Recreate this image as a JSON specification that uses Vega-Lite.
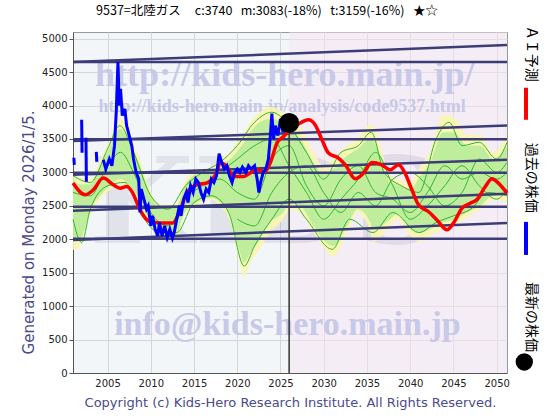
{
  "$schema": "https://vega.github.io/schema/vega-lite/v6.json",
  "width": 434,
  "height": 341,
  "autosize": "none",
  "padding": {"left": 73, "top": 32, "right": 53, "bottom": 47},
  "background": "white",
  "view": {"fill": "#f3f6f8", "stroke": "#999999", "strokeWidth": 1},
  "title": {
    "text": "9537=北陸ガス\u00a0\u00a0\u00a0\u00a0 c:3740\u00a0\u00a0 m:3083(-18%)\u00a0\u00a0 t:3159(-16%)\u00a0\u00a0 ★☆",
    "font": "Noto Sans CJK JP",
    "fontSize": 12.5,
    "fontWeight": "normal",
    "color": "#000000",
    "anchor": "middle",
    "dx": -23,
    "offset": 8
  },
  "encoding": {
    "x": {
      "field": "year", "type": "quantitative",
      "scale": {"domain": [2001, 2051.2], "nice": false, "zero": false},
      "axis": {
        "title": "Copyright (c) Kids-Hero Research Institute. All Rights Reserved.",
        "titleFont": "DejaVu Sans", "titleFontSize": 13, "titleFontWeight": "normal", "titleColor": "#4a4a8c", "titlePadding": 8,
        "values": [2005, 2010, 2015, 2020, 2025, 2030, 2035, 2040, 2045, 2050],
        "format": "d", "labelFont": "DejaVu Sans", "labelFontSize": 10, "labelColor": "#222222",
        "ticks": false, "labelPadding": 5, "domainColor": "#555555",
        "grid": true, "gridColor": "#d6d6d6", "gridWidth": 1
      }
    },
    "y": {
      "field": "v", "type": "quantitative",
      "scale": {"domain": [0, 5100], "nice": false, "zero": true},
      "axis": {
        "title": "Generated on Monday 2026/1/5.",
        "titleFont": "DejaVu Sans", "titleFontSize": 15, "titleFontWeight": "normal", "titleColor": "#4a4a8c", "titlePadding": 5,
        "titleY": 200,
        "values": [0, 500, 1000, 1500, 2000, 2500, 3000, 3500, 4000, 4500, 5000],
        "labelFont": "DejaVu Sans", "labelFontSize": 10, "labelColor": "#222222", "format": "d",
        "ticks": true, "tickSize": 4, "tickColor": "#555555", "labelPadding": 2, "domainColor": "#555555",
        "grid": true, "gridColor": "#d6d6d6", "gridWidth": 1
      }
    }
  },
  "layer": [
    {
      "data": {"values": [{"year": 2026, "year2": 2051.2, "v": 0, "v2": 5100}]},
      "mark": {"type": "rect", "fill": "#f6e4f2", "opacity": 0.5},
      "encoding": {"x2": {"field": "year2"}, "y2": {"field": "v2"}}
    },
    {
      "data": {"values": [{"year": 2023.2, "v": 2480, "t": "KIDS"}]},
      "mark": {"type": "text", "font": "DejaVu Serif", "fontWeight": "bold", "fontSize": 120, "fill": "#8f8fb0", "opacity": 0.18, "align": "center", "baseline": "middle"},
      "encoding": {"text": {"field": "t"}}
    },
    {
      "data": {"values": [
        {"year": 2025.5, "v": 4461, "t": "http://kids-hero.main.jp/"}
      ]},
      "mark": {"type": "text", "font": "Liberation Serif", "fontWeight": "bold", "fontSize": 36, "fill": "#c8c8e8", "align": "center", "baseline": "middle"},
      "encoding": {"text": {"field": "t"}}
    },
    {
      "data": {"values": [
        {"year": 2025.2, "v": 3982, "t": "http://kids-hero.main.jp/analysis/code9537.html"}
      ]},
      "mark": {"type": "text", "font": "Liberation Serif", "fontWeight": "bold", "fontSize": 18, "fill": "#c8c8e8", "align": "center", "baseline": "middle"},
      "encoding": {"text": {"field": "t"}}
    },
    {
      "data": {"values": [
        {"year": 2025.8, "v": 719, "t": "info@kids-hero.main.jp"}
      ]},
      "mark": {"type": "text", "font": "Liberation Serif", "fontWeight": "bold", "fontSize": 34, "fill": "#c8c8e8", "align": "center", "baseline": "middle"},
      "encoding": {"text": {"field": "t"}}
    },
    {
      "data": {"name": "env"},
      "mark": {"type": "area", "color": "#faf5ae", "opacity": 0.9, "interpolate": "monotone"},
      "encoding": {"y2": {"field": "v2"}}
    },
    {
      "data": {"name": "genv"},
      "mark": {"type": "area", "color": "#b4ec98", "opacity": 0.85, "interpolate": "monotone"},
      "encoding": {"y2": {"field": "v2"}}
    },
    {
      "data": {"name": "glines"},
      "mark": {"type": "line", "color": "#2fb52f", "strokeWidth": 1, "interpolate": "monotone"},
      "encoding": {"detail": {"field": "id"}}
    },
    {
      "data": {"name": "navy"},
      "mark": {"type": "line", "color": "#3c3c78", "strokeWidth": 2.5},
      "encoding": {"detail": {"field": "id"}}
    },
    {
      "data": {"values": [{"year": 2026, "v": 0, "v2": 3740}]},
      "mark": {"type": "rule", "color": "#333333", "strokeWidth": 1.5},
      "encoding": {"y2": {"field": "v2"}}
    },
    {
      "data": {"name": "red"},
      "mark": {"type": "line", "color": "#ff0000", "strokeWidth": 3.5, "interpolate": "monotone"},
      "encoding": {}
    },
    {
      "data": {"name": "blue"},
      "mark": {"type": "line", "color": "#0000ff", "strokeWidth": 3},
      "encoding": {"detail": {"field": "seg"}}
    },
    {
      "data": {"values": [{"year": 2026, "v": 3740}]},
      "mark": {"type": "point", "filled": true, "color": "#000000", "size": 400, "opacity": 1},
      "encoding": {}
    },
    {
      "data": {"values": [
        {"year": 2054.0, "v": 4775, "t": "ＡＩ予測"},
        {"year": 2054.0, "v": 2919, "t": "過去の株価"},
        {"year": 2054.0, "v": 838, "t": "最新の株価"}
      ]},
      "mark": {"type": "text", "font": "Noto Sans CJK JP", "fontSize": 14, "angle": 90, "align": "center", "baseline": "middle", "fill": "#000000"},
      "encoding": {"text": {"field": "t"}}
    },
    {
      "data": {"values": [{"year": 2053.4, "v": 4266, "v2": 3787}]},
      "mark": {"type": "rule", "color": "#ff0000", "strokeWidth": 4},
      "encoding": {"y2": {"field": "v2"}}
    },
    {
      "data": {"values": [{"year": 2053.4, "v": 2260, "v2": 1766}]},
      "mark": {"type": "rule", "color": "#0000ff", "strokeWidth": 4},
      "encoding": {"y2": {"field": "v2"}}
    },
    {
      "data": {"values": [{"year": 2053.2, "v": 165}]},
      "mark": {"type": "point", "filled": true, "color": "#000000", "size": 300, "opacity": 1},
      "encoding": {}
    }
  ],
  "datasets": {
    "env": [
      {"year": 2001.0, "v": 3009, "v2": 1841}, {"year": 2001.8, "v": 2919, "v2": 1886}, {"year": 2003.0, "v": 2889, "v2": 2365},
      {"year": 2004.1, "v": 3189, "v2": 2590}, {"year": 2005.3, "v": 3488, "v2": 2740}, {"year": 2006.4, "v": 3817, "v2": 2814},
      {"year": 2007.6, "v": 3563, "v2": 2740}, {"year": 2008.75, "v": 3189, "v2": 2515}, {"year": 2009.9, "v": 2740, "v2": 2216},
      {"year": 2011.1, "v": 2515, "v2": 2021}, {"year": 2012.8, "v": 2515, "v2": 1991}, {"year": 2014.0, "v": 2889, "v2": 2365},
      {"year": 2015.5, "v": 3039, "v2": 2515}, {"year": 2017.0, "v": 3069, "v2": 2590}, {"year": 2018.0, "v": 3200, "v2": 2500},
      {"year": 2019.2, "v": 3300, "v2": 2250}, {"year": 2020.2, "v": 3500, "v2": 1700}, {"year": 2020.8, "v": 3600, "v2": 1440},
      {"year": 2021.5, "v": 3750, "v2": 1650}, {"year": 2022.6, "v": 3900, "v2": 1850}, {"year": 2023.8, "v": 3980, "v2": 2100},
      {"year": 2025.3, "v": 3900, "v2": 2300}, {"year": 2026.1, "v": 3800, "v2": 2450}, {"year": 2027.3, "v": 3700, "v2": 2400},
      {"year": 2028.8, "v": 3300, "v2": 2100}, {"year": 2029.9, "v": 3100, "v2": 1900}, {"year": 2031.1, "v": 3200, "v2": 1740},
      {"year": 2032.7, "v": 3400, "v2": 2100}, {"year": 2033.9, "v": 3500, "v2": 2400}, {"year": 2035.4, "v": 3720, "v2": 2100},
      {"year": 2035.7, "v": 3700, "v2": 1960}, {"year": 2037.7, "v": 2950, "v2": 2200}, {"year": 2038.5, "v": 2900, "v2": 2300},
      {"year": 2040.0, "v": 2850, "v2": 2050}, {"year": 2041.2, "v": 3100, "v2": 1960}, {"year": 2042.3, "v": 3300, "v2": 2050},
      {"year": 2043.8, "v": 3860, "v2": 2150}, {"year": 2045.0, "v": 3830, "v2": 2200}, {"year": 2046.6, "v": 3560, "v2": 2330},
      {"year": 2048.1, "v": 3560, "v2": 2450}, {"year": 2049.6, "v": 3300, "v2": 2590}, {"year": 2051.2, "v": 3560, "v2": 2560}
    ],
    "genv": [
      {"year": 2001.0, "v": 2900, "v2": 2000}, {"year": 2001.8, "v": 2820, "v2": 2000}, {"year": 2003.0, "v": 2820, "v2": 2450},
      {"year": 2004.1, "v": 3100, "v2": 2650}, {"year": 2005.3, "v": 3380, "v2": 2800}, {"year": 2006.4, "v": 3650, "v2": 2900},
      {"year": 2007.6, "v": 3450, "v2": 2800}, {"year": 2008.75, "v": 3100, "v2": 2580}, {"year": 2009.9, "v": 2680, "v2": 2280},
      {"year": 2011.1, "v": 2460, "v2": 2080}, {"year": 2012.8, "v": 2460, "v2": 2060}, {"year": 2014.0, "v": 2820, "v2": 2420},
      {"year": 2015.5, "v": 2980, "v2": 2560}, {"year": 2017.0, "v": 3000, "v2": 2620}, {"year": 2018.0, "v": 3120, "v2": 2560},
      {"year": 2019.2, "v": 3200, "v2": 2350}, {"year": 2020.2, "v": 3350, "v2": 1850}, {"year": 2020.8, "v": 3450, "v2": 1650},
      {"year": 2021.5, "v": 3600, "v2": 1800}, {"year": 2022.6, "v": 3750, "v2": 2000}, {"year": 2023.8, "v": 3800, "v2": 2250},
      {"year": 2025.3, "v": 3750, "v2": 2400}, {"year": 2026.1, "v": 3650, "v2": 2550}, {"year": 2027.3, "v": 3500, "v2": 2500},
      {"year": 2028.8, "v": 3150, "v2": 2200}, {"year": 2029.9, "v": 2980, "v2": 2000}, {"year": 2031.1, "v": 3050, "v2": 1900},
      {"year": 2032.7, "v": 3250, "v2": 2200}, {"year": 2033.9, "v": 3350, "v2": 2450}, {"year": 2035.4, "v": 3500, "v2": 2250},
      {"year": 2035.7, "v": 3480, "v2": 2150}, {"year": 2037.7, "v": 2850, "v2": 2300}, {"year": 2038.5, "v": 2820, "v2": 2380},
      {"year": 2040.0, "v": 2750, "v2": 2150}, {"year": 2041.2, "v": 2950, "v2": 2100}, {"year": 2042.3, "v": 3150, "v2": 2150},
      {"year": 2043.8, "v": 3600, "v2": 2250}, {"year": 2045.0, "v": 3600, "v2": 2300}, {"year": 2046.6, "v": 3400, "v2": 2400},
      {"year": 2048.1, "v": 3400, "v2": 2500}, {"year": 2049.6, "v": 3200, "v2": 2650}, {"year": 2051.2, "v": 3400, "v2": 2650}
    ],
    "glines": [
      {"id": 1, "year": 2001, "v": 2950}, {"id": 1, "year": 2003, "v": 2850}, {"id": 1, "year": 2005, "v": 3350}, {"id": 1, "year": 2006.4, "v": 3700},
      {"id": 1, "year": 2008, "v": 3300}, {"id": 1, "year": 2010, "v": 2650}, {"id": 1, "year": 2012, "v": 2450}, {"id": 1, "year": 2014, "v": 2800},
      {"id": 1, "year": 2016, "v": 3000}, {"id": 1, "year": 2018, "v": 3150}, {"id": 1, "year": 2020, "v": 3400}, {"id": 1, "year": 2022, "v": 3750},
      {"id": 1, "year": 2024, "v": 3900}, {"id": 1, "year": 2026, "v": 3700}, {"id": 1, "year": 2028, "v": 3300}, {"id": 1, "year": 2030, "v": 2900},
      {"id": 1, "year": 2032, "v": 3300}, {"id": 1, "year": 2034, "v": 3400}, {"id": 1, "year": 2035.5, "v": 3600}, {"id": 1, "year": 2037, "v": 3000},
      {"id": 1, "year": 2039, "v": 2800}, {"id": 1, "year": 2041, "v": 2700}, {"id": 1, "year": 2043, "v": 3500}, {"id": 1, "year": 2044.5, "v": 3750},
      {"id": 1, "year": 2046, "v": 3400}, {"id": 1, "year": 2048, "v": 3450}, {"id": 1, "year": 2050, "v": 3200}, {"id": 1, "year": 2051.2, "v": 3450},
      {"id": 2, "year": 2001, "v": 2300}, {"id": 2, "year": 2002, "v": 1950}, {"id": 2, "year": 2003, "v": 2450}, {"id": 2, "year": 2005, "v": 2800},
      {"id": 2, "year": 2007, "v": 2850}, {"id": 2, "year": 2009, "v": 2350}, {"id": 2, "year": 2011, "v": 2100}, {"id": 2, "year": 2013, "v": 2100},
      {"id": 2, "year": 2015, "v": 2550}, {"id": 2, "year": 2017, "v": 2650}, {"id": 2, "year": 2019, "v": 2400}, {"id": 2, "year": 2020.8, "v": 1600},
      {"id": 2, "year": 2022, "v": 1900}, {"id": 2, "year": 2024, "v": 2300}, {"id": 2, "year": 2026, "v": 2600}, {"id": 2, "year": 2028, "v": 2300},
      {"id": 2, "year": 2031, "v": 1850}, {"id": 2, "year": 2033, "v": 2300}, {"id": 2, "year": 2035.7, "v": 2100}, {"id": 2, "year": 2038, "v": 2400},
      {"id": 2, "year": 2041, "v": 2100}, {"id": 2, "year": 2043, "v": 2250}, {"id": 2, "year": 2045, "v": 2350}, {"id": 2, "year": 2047, "v": 2450},
      {"id": 2, "year": 2049, "v": 2700}, {"id": 2, "year": 2051.2, "v": 2650},
      {"id": 3, "year": 2001, "v": 2700}, {"id": 3, "year": 2003, "v": 2650}, {"id": 3, "year": 2005, "v": 3100}, {"id": 3, "year": 2006.5, "v": 3300},
      {"id": 3, "year": 2008, "v": 3000}, {"id": 3, "year": 2010, "v": 2400}, {"id": 3, "year": 2012, "v": 2200}, {"id": 3, "year": 2014, "v": 2600},
      {"id": 3, "year": 2016, "v": 2800}, {"id": 3, "year": 2018, "v": 2900}, {"id": 3, "year": 2020, "v": 2700}, {"id": 3, "year": 2022, "v": 2600},
      {"id": 3, "year": 2024, "v": 3200}, {"id": 3, "year": 2026, "v": 3400}, {"id": 3, "year": 2028, "v": 2800}, {"id": 3, "year": 2030, "v": 2500},
      {"id": 3, "year": 2032, "v": 2900}, {"id": 3, "year": 2034, "v": 3100}, {"id": 3, "year": 2036, "v": 2700}, {"id": 3, "year": 2038, "v": 2600},
      {"id": 3, "year": 2040, "v": 2400}, {"id": 3, "year": 2042, "v": 2700}, {"id": 3, "year": 2044, "v": 3100}, {"id": 3, "year": 2046, "v": 2900},
      {"id": 3, "year": 2048, "v": 3000}, {"id": 3, "year": 2050, "v": 2900}, {"id": 3, "year": 2051.2, "v": 3000},
      {"id": 4, "year": 2018, "v": 3000}, {"id": 4, "year": 2020, "v": 3200}, {"id": 4, "year": 2022, "v": 3400}, {"id": 4, "year": 2024, "v": 3500},
      {"id": 4, "year": 2026, "v": 3100}, {"id": 4, "year": 2028, "v": 2700}, {"id": 4, "year": 2030, "v": 2300}, {"id": 4, "year": 2032, "v": 2600},
      {"id": 4, "year": 2034, "v": 2900}, {"id": 4, "year": 2036, "v": 3300}, {"id": 4, "year": 2038, "v": 2800}, {"id": 4, "year": 2040, "v": 2300},
      {"id": 4, "year": 2042, "v": 2500}, {"id": 4, "year": 2044, "v": 2800}, {"id": 4, "year": 2046, "v": 3100}, {"id": 4, "year": 2048, "v": 2800},
      {"id": 4, "year": 2050, "v": 2600}, {"id": 4, "year": 2051.2, "v": 2750},
      {"id": 5, "year": 2020, "v": 2300}, {"id": 5, "year": 2022, "v": 2200}, {"id": 5, "year": 2024, "v": 2700}, {"id": 5, "year": 2026, "v": 3000},
      {"id": 5, "year": 2028, "v": 3100}, {"id": 5, "year": 2030, "v": 2700}, {"id": 5, "year": 2032, "v": 2400}, {"id": 5, "year": 2034, "v": 2700},
      {"id": 5, "year": 2036, "v": 2500}, {"id": 5, "year": 2038, "v": 2900}, {"id": 5, "year": 2040, "v": 3000}, {"id": 5, "year": 2042, "v": 2800},
      {"id": 5, "year": 2044, "v": 2500}, {"id": 5, "year": 2046, "v": 2700}, {"id": 5, "year": 2048, "v": 3200}, {"id": 5, "year": 2050, "v": 3000},
      {"id": 5, "year": 2051.2, "v": 3150}
    ],
    "navy": [
      {"id": 1, "year": 2001, "v": 4650}, {"id": 1, "year": 2051.2, "v": 4650},
      {"id": 2, "year": 2001, "v": 4650}, {"id": 2, "year": 2051.2, "v": 4905},
      {"id": 3, "year": 2001, "v": 3495}, {"id": 3, "year": 2051.2, "v": 3495},
      {"id": 4, "year": 2001, "v": 3470}, {"id": 4, "year": 2051.2, "v": 3700},
      {"id": 5, "year": 2001, "v": 2994}, {"id": 5, "year": 2051.2, "v": 2994},
      {"id": 6, "year": 2001, "v": 2965}, {"id": 6, "year": 2051.2, "v": 3190},
      {"id": 7, "year": 2001, "v": 2487}, {"id": 7, "year": 2051.2, "v": 2487},
      {"id": 8, "year": 2001, "v": 2425}, {"id": 8, "year": 2051.2, "v": 2680},
      {"id": 9, "year": 2001, "v": 2006}, {"id": 9, "year": 2051.2, "v": 2006},
      {"id": 10, "year": 2001, "v": 1990}, {"id": 10, "year": 2051.2, "v": 2245}
    ],
    "red": [
      {"year": 2001.0, "v": 2840}, {"year": 2002.4, "v": 2665}, {"year": 2003.35, "v": 2740}, {"year": 2004.5, "v": 2915},
      {"year": 2005.66, "v": 2814}, {"year": 2006.44, "v": 2765}, {"year": 2007.2, "v": 2789}, {"year": 2007.9, "v": 2695},
      {"year": 2008.75, "v": 2440}, {"year": 2009.9, "v": 2265}, {"year": 2011.07, "v": 2245}, {"year": 2012.57, "v": 2245},
      {"year": 2013.4, "v": 2440}, {"year": 2014.16, "v": 2695}, {"year": 2015.3, "v": 2814}, {"year": 2016.5, "v": 2844},
      {"year": 2017.6, "v": 2990}, {"year": 2018.0, "v": 3139}, {"year": 2018.8, "v": 3088}, {"year": 2019.55, "v": 2939},
      {"year": 2020.7, "v": 2939}, {"year": 2022.26, "v": 3039}, {"year": 2023.2, "v": 3013}, {"year": 2023.8, "v": 3139},
      {"year": 2024.6, "v": 3439}, {"year": 2025.34, "v": 3537}, {"year": 2027.27, "v": 3738}, {"year": 2028.23, "v": 3787},
      {"year": 2029.0, "v": 3713}, {"year": 2029.8, "v": 3488}, {"year": 2030.55, "v": 3289}, {"year": 2031.7, "v": 3214},
      {"year": 2032.5, "v": 3114}, {"year": 2033.64, "v": 2904}, {"year": 2034.6, "v": 2990}, {"year": 2035.57, "v": 3148},
      {"year": 2036.7, "v": 3114}, {"year": 2037.7, "v": 3039}, {"year": 2038.65, "v": 3114}, {"year": 2039.4, "v": 2990},
      {"year": 2040.2, "v": 2740}, {"year": 2040.97, "v": 2515}, {"year": 2042.1, "v": 2415}, {"year": 2043.1, "v": 2290},
      {"year": 2044.25, "v": 2141}, {"year": 2045.0, "v": 2241}, {"year": 2046.0, "v": 2466}, {"year": 2046.95, "v": 2540},
      {"year": 2047.7, "v": 2590}, {"year": 2048.7, "v": 2789}, {"year": 2049.46, "v": 2904}, {"year": 2050.2, "v": 2840},
      {"year": 2051.2, "v": 2690}
    ],
    "blue": [
      {"seg": 1, "year": 2001.1, "v": 3219}, {"seg": 1, "year": 2001.15, "v": 3114},
      {"seg": 2, "year": 2002.0, "v": 3787}, {"seg": 2, "year": 2002.05, "v": 3294},
      {"seg": 3, "year": 2002.5, "v": 3518}, {"seg": 3, "year": 2002.55, "v": 2859},
      {"seg": 4, "year": 2003.7, "v": 3308}, {"seg": 4, "year": 2003.75, "v": 3159},
      {"seg": 5, "year": 2004.5, "v": 3189}, {"seg": 5, "year": 2004.8, "v": 3050}, {"seg": 5, "year": 2005.2, "v": 3200},
      {"seg": 5, "year": 2005.5, "v": 3100}, {"seg": 5, "year": 2005.8, "v": 3400}, {"seg": 5, "year": 2006.0, "v": 3900},
      {"seg": 5, "year": 2006.2, "v": 4650}, {"seg": 5, "year": 2006.35, "v": 4000}, {"seg": 5, "year": 2006.5, "v": 4250},
      {"seg": 5, "year": 2006.7, "v": 3850}, {"seg": 5, "year": 2007.0, "v": 3950}, {"seg": 5, "year": 2007.2, "v": 3700},
      {"seg": 5, "year": 2007.5, "v": 3550}, {"seg": 5, "year": 2007.8, "v": 3400}, {"seg": 5, "year": 2008.0, "v": 3200},
      {"seg": 5, "year": 2008.3, "v": 3000}, {"seg": 5, "year": 2008.6, "v": 2900}, {"seg": 5, "year": 2008.75, "v": 2400},
      {"seg": 5, "year": 2008.9, "v": 2750}, {"seg": 5, "year": 2009.2, "v": 2600}, {"seg": 5, "year": 2009.5, "v": 2450},
      {"seg": 5, "year": 2009.7, "v": 2500}, {"seg": 5, "year": 2010.0, "v": 2200}, {"seg": 5, "year": 2010.2, "v": 2350},
      {"seg": 5, "year": 2010.5, "v": 2150}, {"seg": 5, "year": 2010.8, "v": 2050}, {"seg": 5, "year": 2011.0, "v": 2250},
      {"seg": 5, "year": 2011.3, "v": 2050}, {"seg": 5, "year": 2011.6, "v": 2200}, {"seg": 5, "year": 2011.9, "v": 2030},
      {"seg": 5, "year": 2012.2, "v": 2150}, {"seg": 5, "year": 2012.5, "v": 2020}, {"seg": 5, "year": 2012.7, "v": 2100},
      {"seg": 5, "year": 2013.0, "v": 2300}, {"seg": 5, "year": 2013.3, "v": 2500}, {"seg": 5, "year": 2013.5, "v": 2350},
      {"seg": 5, "year": 2013.8, "v": 2600}, {"seg": 5, "year": 2014.1, "v": 2700}, {"seg": 5, "year": 2014.3, "v": 2550},
      {"seg": 5, "year": 2014.6, "v": 2800}, {"seg": 5, "year": 2014.9, "v": 2700}, {"seg": 5, "year": 2015.2, "v": 2900},
      {"seg": 5, "year": 2015.5, "v": 2850}, {"seg": 5, "year": 2015.8, "v": 2700}, {"seg": 5, "year": 2016.1, "v": 2600},
      {"seg": 5, "year": 2016.4, "v": 2750}, {"seg": 5, "year": 2016.7, "v": 2700}, {"seg": 5, "year": 2017.0, "v": 2900},
      {"seg": 5, "year": 2017.3, "v": 2850}, {"seg": 5, "year": 2017.6, "v": 2950}, {"seg": 5, "year": 2017.9, "v": 3280},
      {"seg": 5, "year": 2018.2, "v": 3150}, {"seg": 5, "year": 2018.5, "v": 3050}, {"seg": 5, "year": 2018.8, "v": 3100},
      {"seg": 5, "year": 2019.1, "v": 2950}, {"seg": 5, "year": 2019.4, "v": 2850}, {"seg": 5, "year": 2019.7, "v": 3000},
      {"seg": 5, "year": 2020.0, "v": 3050}, {"seg": 5, "year": 2020.3, "v": 3000}, {"seg": 5, "year": 2020.6, "v": 3080},
      {"seg": 5, "year": 2021.0, "v": 3000}, {"seg": 5, "year": 2021.3, "v": 3100}, {"seg": 5, "year": 2021.6, "v": 3050},
      {"seg": 5, "year": 2022.0, "v": 3100}, {"seg": 5, "year": 2022.3, "v": 2900}, {"seg": 5, "year": 2022.5, "v": 2700},
      {"seg": 5, "year": 2022.7, "v": 2850}, {"seg": 5, "year": 2023.0, "v": 3000}, {"seg": 5, "year": 2023.3, "v": 3050},
      {"seg": 5, "year": 2023.6, "v": 3200}, {"seg": 5, "year": 2023.8, "v": 3500}, {"seg": 5, "year": 2024.0, "v": 3880},
      {"seg": 5, "year": 2024.2, "v": 3500}, {"seg": 5, "year": 2024.4, "v": 3700}, {"seg": 5, "year": 2024.7, "v": 3550},
      {"seg": 5, "year": 2025.0, "v": 3800}, {"seg": 5, "year": 2025.3, "v": 3600}, {"seg": 5, "year": 2025.6, "v": 3750},
      {"seg": 5, "year": 2025.9, "v": 3700}, {"seg": 5, "year": 2026.0, "v": 3740}
    ]
  }
}
